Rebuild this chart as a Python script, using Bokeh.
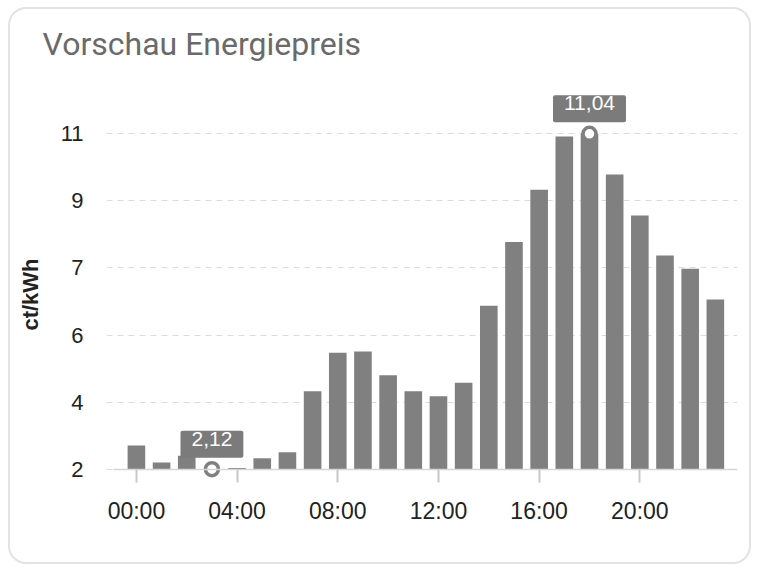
from bokeh.plotting import figure
from bokeh.models import FixedTicker, Label, ColumnDataSource, Title
from bokeh.embed import file_html
from bokeh.resources import INLINE

# ---- data ----
hours = list(range(24))
prices = [2.75, 2.30, 2.48, 2.12, 2.15, 2.41, 2.57, 4.19, 5.22, 5.25, 4.62, 4.19,
          4.06, 4.42, 6.47, 8.16, 9.55, 10.97, 11.04, 9.96, 8.87, 7.80, 7.45, 6.63]
x_ticks = [0, 4, 8, 12, 16, 20]
x_tick_labels = ["00:00", "04:00", "08:00", "12:00", "16:00", "20:00"]
y_ticks = [2.12, 3.904, 5.688, 7.472, 9.256, 11.04]
y_tick_labels = ["2", "4", "6", "7", "9", "11"]
title_text = "Vorschau Energiepreis"
unit_text = "ct/kWh"

y_min = min(prices)
y_max = max(prices)
i_min = prices.index(y_min)
i_max = prices.index(y_max)

BAR = "#808080"
GRID = "#dcdcdc"
AXIS_FONT = "Liberation Sans"

p = figure(width=743, height=557, output_backend="svg", toolbar_location=None,
           x_range=(-1.188, 23.88), y_range=(0.649, 12.883),
           min_border_left=96, min_border_right=16, min_border_top=55, min_border_bottom=42)
p.styles = {"border": "2px solid #e3e3e3", "border-radius": "18px",
            "background-color": "white", "overflow": "hidden",
            "margin-left": "8px", "margin-top": "7px"}
p.border_fill_alpha = 0
p.background_fill_alpha = 0
p.outline_line_color = None

src = ColumnDataSource(dict(x=hours, top=prices))
p.vbar(x="x", top="top", bottom=y_min, width=0.7, source=src,
       fill_color=BAR, line_color=None)

p.scatter(x=[hours[i_min], hours[i_max]], y=[y_min, y_max], marker="circle", size=13,
          fill_color="white", line_color=BAR, line_width=3.5)

for i in (i_min, i_max):
    txt = f"{prices[i]:.2f}".replace(".", ",")
    p.add_layout(Label(x=hours[i], y=prices[i], y_offset=25, text=txt,
                       text_align="center", text_baseline="middle",
                       text_color="white", text_font=AXIS_FONT, text_font_size="21px",
                       background_fill_color="#7b7b7b",
                       padding=dict(left=11, right=11, top=1, bottom=12), border_radius=2))

# x axis, drawn along the lowest price
xa = p.xaxis[0]
xa.fixed_location = y_min
xa.bounds = (-0.91, 23.88)
xa.ticker = FixedTicker(ticks=x_ticks)
xa.major_label_overrides = {t: l for t, l in zip(x_ticks, x_tick_labels)}
xa.axis_line_color = "#d6d6d6"
xa.axis_line_width = 1.5
xa.major_tick_in = 0
xa.major_tick_out = 13
xa.major_tick_line_color = "#c8c8c8"
xa.major_tick_line_width = 2
xa.minor_tick_line_color = None
xa.minor_tick_in = 0
xa.minor_tick_out = 0
xa.major_label_standoff = 16
xa.major_label_text_font = AXIS_FONT
xa.major_label_text_font_size = "23px"
xa.major_label_text_color = "#222222"

# y axis
ya = p.yaxis[0]
ya.ticker = FixedTicker(ticks=y_ticks)
ya.major_label_overrides = {t: l for t, l in zip(y_ticks, y_tick_labels)}
ya.axis_line_color = None
ya.major_tick_line_color = None
ya.major_tick_in = 0
ya.major_tick_out = 0
ya.minor_tick_line_color = None
ya.minor_tick_out = 0
ya.major_label_standoff = 23
ya.major_label_text_font = AXIS_FONT
ya.major_label_text_font_size = "22px"
ya.major_label_text_color = "#222222"
ya.axis_label = unit_text
ya.axis_label_standoff = 15
ya.axis_label_text_font = AXIS_FONT
ya.axis_label_text_font_size = "22px"
ya.axis_label_text_font_style = "bold"
ya.axis_label_text_color = "#222222"

p.xgrid.grid_line_color = None
p.ygrid.grid_line_color = GRID
p.ygrid.grid_line_dash = "6 5"
p.ygrid.grid_line_width = 1.2

p.title = Title(text=title_text, align="left", offset=-64, standoff=3,
                text_font="Roboto", text_font_size="32px", text_font_style="normal",
                text_color="#6a6a6a")

open("out.html", "w").write(file_html(p, INLINE))
